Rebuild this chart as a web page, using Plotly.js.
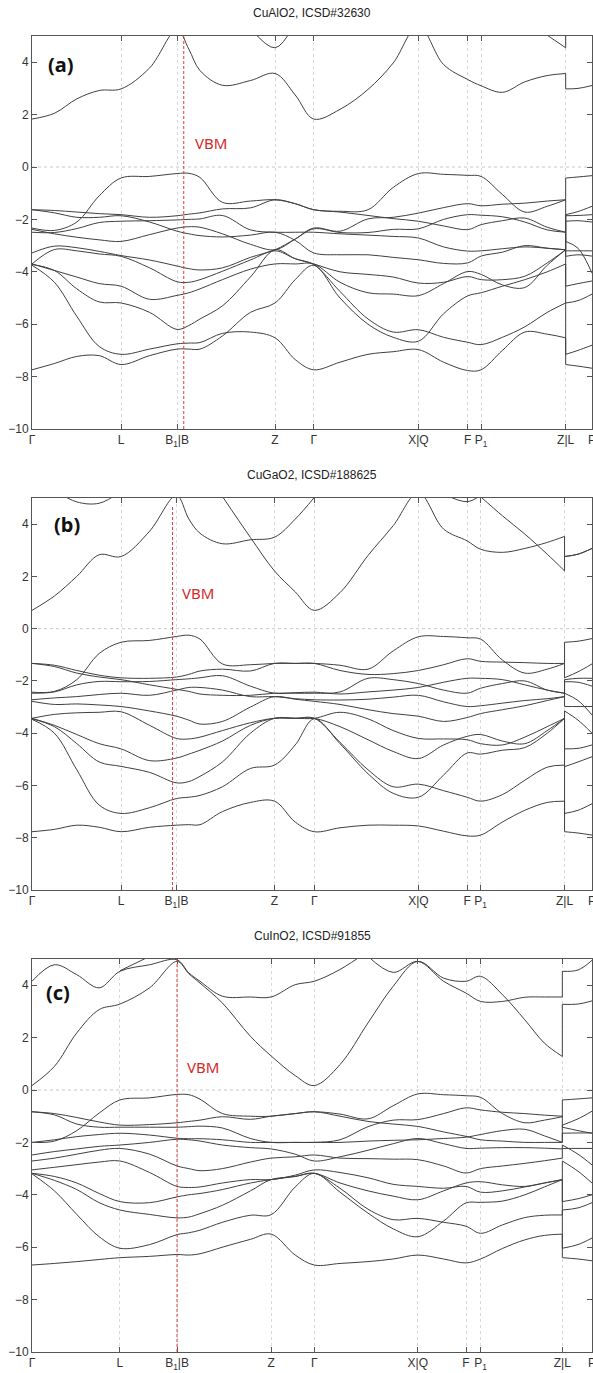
<!DOCTYPE html>
<html><head><meta charset="utf-8">
<script src="https://cdn.plot.ly/plotly-3.0.1.min.js"></script>
<style>html,body{margin:0;padding:0;background:#fff}#plot{width:593px;height:1373px}</style>
</head><body><div id="plot"></div>
<script>
// ---------- k-path positions (fraction of path length) ----------
const tickText = ['Γ','L','B<sub>1</sub>|B','Z','Γ','X|Q','F','P<sub>1</sub>','Z|L','P'];
const ticksA = [0, .159, .259, .434, .503, .69, .778, .802, .953, 1];
const ticksB = [0, .159, .258, .433, .504, .69, .777, .801, .951, 1];
const ticksC = [0, .157, .259, .427, .504, .689, .775, .801, .947, 1];
const gridA  = [0,.04,.08,.12,.159,.21,.259,.28,.30,.34,.39,.434,.47,.503,.55,.60,.645,.69,.735,.778,.802,.84,.88,.92,.953];
const gridAL = [.953,.975,1];
const gridB  = [0,.04,.08,.12,.159,.21,.258,.28,.30,.34,.39,.433,.47,.504,.55,.60,.645,.69,.735,.777,.801,.84,.88,.92,.951];
const gridBL = [.951,.975,1];
const gridC  = [0,.04,.08,.12,.157,.21,.259,.28,.30,.34,.39,.427,.47,.504,.55,.60,.645,.689,.735,.775,.801,.84,.88,.915,.947];
const gridCL = [.947,.975,1];
const vbmX = [0.271, 0.251, 0.259];
const titles = ['CuAlO2, ICSD#32630', 'CuGaO2, ICSD#188625', 'CuInO2, ICSD#91855'];
const labels = ['(a)', '(b)', '(c)'];
const yTicks = [-10,-8,-6,-4,-2,0,2,4];
const N = null;

// ---------- panel (a) CuAlO2 bands, eV ----------
const bandsA = [
 [-2.33,-2.42,-2.1,-1.1,-0.42, -0.36,-0.25,-0.24,-0.4,-1.35,-1.3,-1.25, -1.4,-1.63, -1.69,-1.63,-0.78,-0.25, -0.28,-0.32,-0.36, -1.05,-1.72,-1.5,-1.25],
 [-1.63,-1.66,-1.72,-1.78,-1.82, -1.92,-1.86,-1.8,-1.75,-1.6,-1.56,-1.25, -1.4,-1.63, -1.72,-1.85,-1.97,-2.07, -2.25,-2.39,-2.2, -2.05,-1.95,-2.3,-2.49],
 [-1.63,-1.75,-1.92,-1.92,-1.86, -2.1,-2.45,-2.55,-2.62,-2.67,-2.6,-2.49, -2.8,-3.28, -3.35,-3.35,-3.45,-3.54, -3.68,-3.66,-3.4, -3.25,-3.0,-3.1,-3.16],
 [-2.49,-2.5,-2.35,-2.12,-2.07, -2.05,-2.02,-2.0,-1.98,-1.85,-2.4,-2.49, -2.49,-2.49, -2.55,-2.6,-2.65,-2.71, -3.05,-3.21,-3.2, -3.12,-3.05,-3.1,-3.16],
 [-2.38,-2.55,-2.68,-2.78,-2.84, -2.58,-2.33,-2.28,-2.3,-2.55,-2.95,-3.16, -2.75,-2.33, -2.45,-1.98,-1.92,-1.76, -1.55,-1.4,-1.48, -1.42,-1.38,-1.3,-1.25],
 [-3.28,-3.02,-3.08,-3.22,-3.38, -3.55,-3.78,-3.88,-3.93,-3.85,-3.45,-3.16, -2.75,-2.36, -2.5,-2.5,-2.38,-2.36, -2.0,-1.82,-1.84, -1.9,-2.1,-2.4,-2.49],
 [-3.7,-3.15,-3.2,-3.32,-3.41, -3.85,-4.38,-4.4,-4.3,-3.98,-3.55,-3.2, -3.5,-3.7, -4.0,-4.1,-4.2,-4.43, -4.4,-4.18,-4.3, -4.3,-4.17,-3.66,-3.16],
 [-3.7,-3.95,-4.2,-4.45,-4.55, -5.05,-4.9,-4.8,-4.65,-4.3,-3.9,-3.7, -3.7,-3.7, -4.4,-4.8,-4.85,-4.91, -4.45,-3.99,-4.1, -4.5,-4.6,-3.75,-3.16],
 [-3.72,-3.95,-4.65,-5.15,-5.19, -5.55,-6.2,-6.05,-5.8,-5.3,-4.2,-3.16, -3.5,-3.72, -4.75,-5.8,-6.3,-6.21, -6.5,-6.69,-6.78, -6.5,-6.1,-5.55,-5.19],
 [-7.74,-7.5,-7.23,-7.2,-7.54, -7.2,-6.95,-6.95,-6.95,-6.45,-5.55,-5.19, -4.3,-3.75, -5.0,-6.0,-6.5,-6.65, -5.6,-4.92,-4.8, -4.55,-4.3,-4.0,-3.7],
 [-3.75,-4.4,-5.7,-6.85,-7.15, -6.95,-6.75,-6.72,-6.7,-6.35,-6.3,-6.52, -7.35,-7.74, -7.45,-7.15,-7.05,-6.97, -7.45,-7.77,-7.74, -7.0,-6.3,-6.38,-6.52],
 [1.83,2.05,2.6,2.92,2.98, 3.78,5.25,4.5,3.68,3.12,3.3,3.57, 2.75,1.83, 2.2,2.96,3.97,5.4, 3.91,3.34,3.1, 2.85,3.25,3.49,3.57],
 [N,N,N,N,N, N,N,N,N,N,5.3,4.55, 5.5,N, N,N,N,N, N,N,N, N,5.6,5.03,4.55]
];
const bandsAL = [
 [-0.42,-0.38,-0.33],[-1.82,-1.7,-1.5],[-1.86,-1.85,-1.82],[-2.07,-2.05,-2.1],[-2.84,-3.1,-4.05],
 [-3.2,-3.2,-3.2],[-3.41,-3.35,-3.4],[-4.55,-4.45,-4.35],[-5.19,-5.1,-4.85],[-7.54,-7.6,-7.68],
 [-7.15,-7.0,-6.8],[2.98,3.0,3.11],[5.3,5.5,5.6]
];

// ---------- panel (b) CuGaO2 bands, eV ----------
const bandsB = [
 [-2.43,-2.4,-1.95,-0.95,-0.52, -0.45,-0.3,-0.25,-0.4,-1.35,-1.38,-1.33, -1.33,-1.33, -1.4,-1.55,-0.85,-0.31, -0.3,-0.35,-0.4, -1.2,-1.7,-1.55,-1.33],
 [-1.33,-1.4,-1.6,-1.78,-1.88, -1.9,-1.85,-1.75,-1.62,-1.55,-1.62,-1.33, -1.33,-1.33, -1.6,-1.75,-1.72,-1.6, -1.38,-1.15,-1.25, -1.28,-1.3,-1.33,-1.33],
 [-1.33,-1.45,-1.7,-1.85,-1.95, -2.15,-2.32,-2.4,-2.5,-2.55,-2.55,-2.47, -2.47,-2.47, -2.42,-1.9,-1.95,-2.1, -2.35,-2.47,-2.28, -2.1,-2.0,-2.35,-2.47],
 [-2.47,-2.42,-2.15,-2.02,-2.03, -2.02,-1.95,-1.92,-1.88,-1.8,-2.2,-2.47, -2.45,-2.43, -2.5,-2.42,-2.35,-2.25, -2.05,-1.9,-1.9, -1.95,-2.15,-2.35,-2.47],
 [-2.72,-2.65,-2.6,-2.52,-2.47, -2.55,-2.35,-2.25,-2.25,-2.35,-2.6,-2.6, -2.68,-2.72, -2.73,-2.7,-2.62,-2.55, -2.8,-2.98,-2.95, -2.85,-2.75,-2.68,-2.6],
 [-2.78,-2.9,-2.88,-2.92,-2.98, -3.15,-3.35,-3.5,-3.65,-3.55,-3.0,-2.6, -2.7,-2.78, -2.9,-3.1,-3.25,-3.35, -3.55,-3.4,-3.25, -3.1,-2.95,-2.75,-2.6],
 [-3.43,-3.28,-3.22,-3.2,-3.18, -3.7,-4.2,-4.22,-4.15,-3.9,-3.6,-3.43, -3.43,-3.43, -3.2,-3.45,-3.9,-4.2, -4.22,-4.25,-4.4, -4.45,-4.15,-3.75,-3.43],
 [-3.43,-3.7,-4.05,-4.4,-4.6, -5.05,-4.95,-4.8,-4.65,-4.3,-3.7,-3.43, -3.43,-3.43, -3.75,-4.25,-4.7,-4.97, -4.45,-4.12,-4.05, -4.3,-4.4,-3.9,-3.43],
 [-3.45,-3.75,-4.4,-5.1,-5.27, -5.5,-5.9,-5.85,-5.65,-5.1,-4.0,-3.43, -3.43,-3.43, -4.35,-5.4,-6.05,-5.95, -6.2,-6.45,-6.6, -6.35,-5.8,-5.3,-5.22],
 [-3.47,-4.0,-5.4,-6.75,-7.07, -6.85,-6.5,-6.45,-6.38,-6.05,-5.35,-5.22, -4.45,-3.45, -4.4,-5.55,-6.3,-6.45, -5.6,-4.76,-4.8, -4.65,-4.55,-4.0,-3.43],
 [-7.77,-7.68,-7.52,-7.6,-7.77, -7.6,-7.52,-7.5,-7.5,-7.0,-6.65,-6.6, -7.4,-7.77, -7.62,-7.52,-7.52,-7.55, -7.75,-7.93,-7.9, -7.4,-6.95,-6.65,-6.6],
 [0.7,1.25,2.0,2.83,2.76, 3.73,5.1,4.2,3.65,3.25,3.4,3.5, 4.19,5.02, N,N,N,N, N,N,N, N,N,N,N],
 [N,N,N,N,N, N,N,N,N,5.06,3.49,2.21, 1.41,0.7, 1.38,2.8,3.94,5.2, 3.81,3.36,3.04, 2.92,3.07,3.3,3.53],
 [N,N,N,N,N, N,N,N,N,N,N,N, N,N, N,N,N,N, N,N,5.05, 4.32,3.62,2.85,2.21],
 [N,N,N,N,N, N,N,N,N,N,N,N, N,N, N,N,N,N, 5.15,4.86,5.1, N,N,N,N],
 [N,5.3,4.85,4.8,5.25, N,N,N,N,N,N,N, N,N, N,N,N,N, N,N,N, N,N,N,N]
];
const bandsBL = [
 [-0.52,-0.48,-0.38],[-1.88,-1.65,-1.35],[-1.95,-1.9,-1.9],[-2.03,-2.05,-2.2],[-2.47,-2.75,-3.3],
 [-2.98,-2.98,-2.98],[-3.15,-3.5,-4.0],[-4.6,-4.58,-4.45],[-7.07,-6.95,-6.7],[-5.28,-5.1,-4.9],
 [-7.77,-7.82,-7.9],null,[2.76,2.85,3.07],[2.76,2.85,3.07],null,null
];

// ---------- panel (c) CuInO2 bands, eV ----------
const bandsC = [
 [-2.0,-1.95,-1.55,-0.88,-0.38, -0.3,-0.17,-0.18,-0.35,-0.9,-1.0,-1.0, -0.9,-0.83, -0.92,-1.1,-0.6,-0.15, -0.18,-0.22,-0.28, -0.9,-1.25,-1.15,-1.02],
 [-0.83,-0.9,-1.05,-1.22,-1.34, -1.32,-1.25,-1.2,-1.15,-1.02,-1.12,-1.0, -0.9,-0.83, -1.0,-1.2,-1.3,-1.39, -1.6,-1.77,-1.9, -1.95,-2.0,-2.0,-2.0],
 [-0.83,-0.95,-1.3,-1.42,-1.42, -1.42,-1.42,-1.4,-1.38,-1.45,-1.85,-2.0, -2.0,-2.0, -1.9,-1.4,-1.15,-1.13, -0.9,-0.68,-0.76, -0.85,-0.9,-0.96,-1.0],
 [-2.0,-1.9,-1.78,-1.7,-1.65, -1.72,-1.84,-1.86,-1.86,-1.9,-2.0,-2.0, -2.0,-2.0, -2.0,-1.95,-1.92,-1.9, -1.85,-1.8,-1.7, -1.55,-1.5,-1.75,-2.0],
 [-2.48,-2.35,-2.25,-2.15,-2.1, -2.0,-1.88,-1.9,-1.95,-2.1,-2.2,-2.25, -2.45,-2.71, -2.55,-2.3,-2.05,-1.85, -2.05,-2.23,-2.22, -2.2,-2.2,-2.22,-2.25],
 [-2.71,-2.6,-2.45,-2.3,-2.23, -2.45,-2.9,-3.0,-3.08,-3.0,-2.75,-2.6, -2.55,-2.48, -2.6,-2.62,-2.64,-2.66, -2.9,-3.17,-3.0, -2.9,-2.8,-2.7,-2.6],
 [-3.05,-2.95,-2.85,-2.75,-2.71, -3.15,-3.68,-3.72,-3.7,-3.55,-3.42,-3.42, -3.25,-3.05, -3.15,-3.35,-3.6,-3.68, -3.75,-3.68,-3.9, -3.85,-3.7,-3.55,-3.42],
 [-3.18,-3.3,-3.55,-3.95,-4.26, -4.3,-4.08,-4.0,-3.95,-3.8,-3.55,-3.42, -3.3,-3.18, -3.55,-3.85,-4.05,-4.19, -3.85,-3.55,-3.5, -3.62,-3.68,-3.55,-3.42],
 [-3.18,-3.45,-3.8,-4.3,-4.58, -4.75,-4.88,-4.85,-4.72,-4.4,-3.85,-3.42, -3.3,-3.18, -3.75,-4.55,-4.95,-4.9, -5.05,-5.2,-5.47, -5.15,-4.87,-4.78,-4.77],
 [-3.2,-3.85,-4.75,-5.6,-6.04, -5.9,-5.52,-5.45,-5.35,-5.05,-4.78,-4.76, -3.7,-3.18, -3.9,-4.7,-5.3,-5.6, -5.0,-4.31,-4.29, -4.24,-4.0,-3.7,-3.42],
 [-6.68,-6.62,-6.55,-6.47,-6.4, -6.35,-6.28,-6.3,-6.25,-6.0,-5.7,-5.5, -6.3,-6.68, -6.62,-6.55,-6.45,-6.3, -6.45,-6.6,-6.45, -6.05,-5.72,-5.55,-5.5],
 [0.17,0.9,2.18,3.07,3.28, 3.9,4.91,4.44,4.08,3.32,2.05,1.3, 0.55,0.17, 0.97,2.56,3.96,4.91, 4.27,4.15,4.34, 3.64,2.68,1.79,1.28],
 [4.15,4.78,4.4,3.9,4.53, 4.78,4.97,4.47,4.15,3.58,3.55,3.55, 4.02,4.15, 4.6,5.3,N,N, N,N,N, N,N,N,N],
 [N,N,N,N,N, N,N,N,N,N,N,N, N,N, N,5.1,4.49,4.91, 4.15,3.7,3.38, 3.38,3.54,3.55,3.55],
 [N,N,N,N,4.55, 5.1,N,N,N,N,N,N, N,N, N,N,N,N, N,N,N, N,N,N,N]
];
const bandsCL = [
 [-0.38,-0.34,-0.3],[-1.34,-1.1,-0.81],[-1.42,-1.55,-1.65],[-1.65,-1.64,-1.64],[-2.1,-2.45,-2.86],
 [-2.23,-2.23,-2.23],[-2.71,-3.1,-3.55],[-4.26,-4.15,-4.0],[-4.58,-4.5,-4.3],[-6.04,-5.9,-5.65],
 [-6.4,-6.45,-6.52],[3.27,3.28,3.4],null,[4.53,4.58,4.95],null
];

// ---------- build ----------
const LINE = {color:'#404040', width:1};
const FONT = 'Liberation Sans, Arial, sans-serif';
const panels = [
 {grid:gridA, gridL:gridAL, bands:bandsA, bandsL:bandsAL, ticks:ticksA, xa:'x', ya:'y'},
 {grid:gridB, gridL:gridBL, bands:bandsB, bandsL:bandsBL, ticks:ticksB, xa:'x2', ya:'y2'},
 {grid:gridC, gridL:gridCL, bands:bandsC, bandsL:bandsCL, ticks:ticksC, xa:'x3', ya:'y3'}
];
const traces = [];
panels.forEach(p => {
  const mx=[], my=[], lx=[], ly=[], cx=[], cy=[];
  p.bands.forEach((b,i) => {
    b.forEach((v,j) => { mx.push(p.grid[j]); my.push(v); });
    mx.push(null); my.push(null);
    const bl = p.bandsL[i];
    if (bl) {
      bl.forEach((v,j) => { lx.push(p.gridL[j]); ly.push(v); });
      lx.push(null); ly.push(null);
      const zEnd = b[b.length-1];
      if (zEnd !== null) { const zx = p.grid[p.grid.length-1]; cx.push(zx, zx, null); cy.push(zEnd, bl[0], null); }
    }
  });
  const common = {mode:'lines', xaxis:p.xa, yaxis:p.ya, hoverinfo:'skip', showlegend:false};
  traces.push(Object.assign({x:mx, y:my, line:Object.assign({shape:'spline', smoothing:1}, LINE)}, common));
  traces.push(Object.assign({x:lx, y:ly, line:Object.assign({shape:'spline', smoothing:1}, LINE)}, common));
  traces.push(Object.assign({x:cx, y:cy, line:LINE}, common));
});

const W = 593, H = 1373;
const xDom = [32/W, 592/W];
const yDoms = [[1-429/H, 1-36/H], [1-890/H, 1-498/H], [1-1352/H, 1-959/H]];
const titleY = [1-13/H, 1-475/H, 1-936/H];
const labelPos = [[0.052, 3.9], [0.062, 3.97], [0.047, 3.74]];
const vbmPos = [[0.32, 0.92], [0.296, 1.36], [0.306, 0.88]];
const vbmTop = [5, 4.7, 5];

function xaxis(i){ return {domain:xDom, range:[0,1], anchor: i? 'y'+(i+1):'y', tickvals:panels[i].ticks, ticktext:tickText,
  ticks:'inside', ticklen:5, tickcolor:'#555', mirror:'ticks', showline:true, linecolor:'#555', linewidth:1,
  showgrid:true, gridcolor:'#d8d8d8', griddash:'dot', gridwidth:1, zeroline:false, ticklabeloverflow:'allow',
  tickfont:{family:FONT, size:12, color:'#333'}, fixedrange:true}; }
function yaxis(i){ return {domain:yDoms[i], range:[-10,5], anchor: i? 'x'+(i+1):'x', tickvals:yTicks,
  ticks:'inside', ticklen:5, tickcolor:'#555', mirror:'ticks', showline:true, linecolor:'#555', linewidth:1,
  showgrid:false, zeroline:false, ticklabeloverflow:'allow', tickfont:{family:FONT, size:12, color:'#333'}, fixedrange:true}; }

const layout = {width:W, height:H, margin:{l:0,r:0,t:0,b:0}, paper_bgcolor:'#fff', plot_bgcolor:'#fff',
  xaxis:xaxis(0), yaxis:yaxis(0), xaxis2:xaxis(1), yaxis2:yaxis(1), xaxis3:xaxis(2), yaxis3:yaxis(2),
  annotations:[], shapes:[]};
for (let i=0;i<3;i++){
  const xr = i? 'x'+(i+1):'x', yr = i? 'y'+(i+1):'y';
  layout.annotations.push({text:titles[i], xref:'paper', yref:'paper', x:312/W, y:titleY[i], showarrow:false,
    xanchor:'center', yanchor:'middle', font:{family:FONT, size:12, color:'#222'}});
  layout.annotations.push({text:'<b>'+labels[i]+'</b>', xref:xr, yref:yr, x:labelPos[i][0], y:labelPos[i][1], showarrow:false,
    xanchor:'center', yanchor:'middle', font:{family:'Noto Sans, sans-serif', size:20, color:'#111'}});
  layout.annotations.push({text:'VBM', xref:xr, yref:yr, x:vbmPos[i][0], y:vbmPos[i][1], showarrow:false,
    xanchor:'center', yanchor:'middle', font:{family:'Noto Sans, sans-serif', size:15, color:'#d42a2a'}});
  layout.shapes.push({type:'line', xref:xr, yref:yr, x0:0, x1:1, y0:0, y1:0, layer:'below',
    line:{color:'#c8c8c8', width:1, dash:'dot'}});
  layout.shapes.push({type:'line', xref:xr, yref:yr, x0:vbmX[i], x1:vbmX[i], y0:-10, y1:vbmTop[i],
    line:{color:'#e03a3a', width:1, dash:'3px,2px'}});
}
Plotly.newPlot('plot', traces, layout, {staticPlot:true, displayModeBar:false});
</script></body></html>
